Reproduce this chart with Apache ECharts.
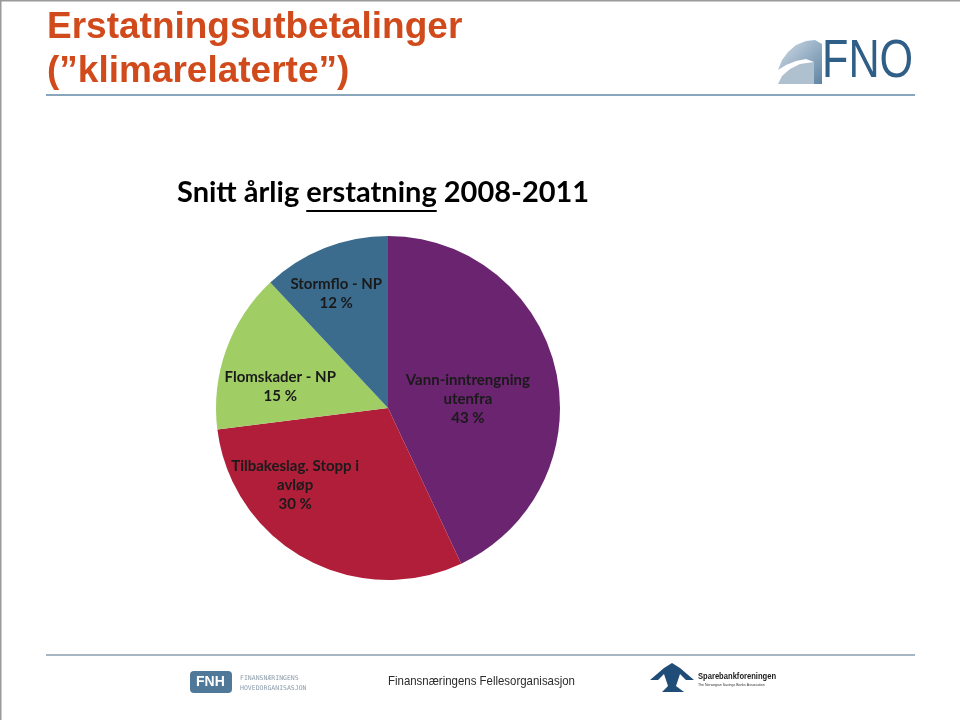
<!DOCTYPE html>
<html>
<head>
<meta charset="utf-8">
<script src="https://cdn.jsdelivr.net/npm/echarts@6/dist/echarts.min.js"></script>
<style>
html,body{margin:0;padding:0;background:#fff;}
#chart{width:960px;height:720px;}
</style>
</head>
<body>
<div id="chart"></div>
<script>
var categories = ['Vann-inntrengning\nutenfra', 'Tilbakeslag. Stopp i\navløp', 'Flomskader - NP', 'Stormflo - NP'];
var values = [43, 30, 15, 12];
var colors = ['#6A2470', '#B11E3A', '#A0CD64', '#3B6C8D'];
var labelOffsets = [[-7, 11], [-50, -1], [-24, 9], [-19, -32]];

var subtitlePre = 'Snitt årlig ';
var subtitleWord = 'erstatning';
var subtitlePost = ' 2008-2011';

var chart = echarts.init(document.getElementById('chart'), null, {renderer: 'canvas'});

var subFont = 'bold 29px Lato, sans-serif';
var mc = document.createElement('canvas').getContext('2d');
mc.font = subFont;
var subX = 177;
var preW = mc.measureText(subtitlePre).width;
var wordW = mc.measureText(subtitleWord).width;

var pieData = categories.map(function (c, i) {
  return {
    name: c,
    value: values[i],
    itemStyle: {color: colors[i]},
    label: {offset: labelOffsets[i]}
  };
});

var option = {
  animation: false,
  backgroundColor: '#ffffff',
  series: [{
    type: 'pie',
    center: [388, 408],
    radius: 172,
    startAngle: 90,
    clockwise: true,
    avoidLabelOverlap: false,
    emphasis: {disabled: true},
    itemStyle: {borderWidth: 0},
    label: {
      show: true,
      position: 'inside',
      formatter: function (p) { return p.name + '\n' + p.value + ' %'; },
      color: '#1a1a1a',
      fontFamily: 'Lato',
      fontWeight: 'bold',
      fontSize: 15,
      lineHeight: 19,
      align: 'center'
    },
    labelLine: {show: false},
    data: pieData
  }],
  graphic: [
    {type: 'line', shape: {x1: 0, y1: 0.5, x2: 960, y2: 0.5}, style: {stroke: '#9a9a9a', lineWidth: 2}},
    {type: 'line', shape: {x1: 0.5, y1: 0, x2: 0.5, y2: 720}, style: {stroke: '#9a9a9a', lineWidth: 2}},
    {type: 'text', x: 47, y: 6, style: {
      text: 'Erstatningsutbetalinger\n(”klimarelaterte”)',
      fill: '#D04A1B', font: 'bold 37px "Liberation Sans", Arial, sans-serif', lineHeight: 44
    }},
    {type: 'line', shape: {x1: 46, y1: 95, x2: 915, y2: 95}, style: {stroke: '#8AA6BC', lineWidth: 2}},
    {type: 'polygon', shape: {points: [[778,70],[782,60],[788,52],[796,45],[806,41],[815,40],[822,44],[822,84],[814,84],[814,62],[806,59],[796,61],[786,65]]},
      style: {fill: new echarts.graphic.LinearGradient(0, 0, 1, 1, [{offset: 0, color: '#D3DEE8'}, {offset: 1, color: '#5F84A3'}])}},
    {type: 'polygon', shape: {points: [[778,84],[782,76],[790,69],[800,64],[814,62],[814,84]]}, style: {fill: '#AFC0CF'}},
    {type: 'text', x: 822, y: 35, scaleX: 0.8, style: {text: 'FNO', fill: '#2F5F86', font: '54px "Liberation Sans", Arial, sans-serif'}},
    {type: 'text', x: subX, y: 178, style: {
      text: subtitlePre + subtitleWord + subtitlePost,
      fill: '#000', font: subFont
    }},
    {type: 'line', shape: {x1: subX + preW, y1: 211, x2: subX + preW + wordW, y2: 211}, style: {stroke: '#000', lineWidth: 2}},
    {type: 'line', shape: {x1: 46, y1: 655, x2: 915, y2: 655}, style: {stroke: '#A6B6C4', lineWidth: 2}},
    {type: 'rect', shape: {x: 190, y: 671, width: 42, height: 22, r: 4}, style: {fill: '#4F7899'}},
    {type: 'text', x: 196, y: 675, style: {text: 'FNH', fill: '#fff', font: 'bold 14px "Liberation Sans", Arial, sans-serif'}},
    {type: 'text', x: 240, y: 673, style: {text: 'FINANSNÆRINGENS\nHOVEDORGANISASJON', fill: '#8C9CAB', font: '6.5px "DejaVu Sans Mono", monospace', lineHeight: 10}},
    {type: 'text', x: 388, y: 675, scaleX: 0.88, style: {text: 'Finansnæringens Fellesorganisasjon', fill: '#2b2b2b', font: '13px "Liberation Sans", sans-serif'}},
    {type: 'polygon', shape: {points: [[650,680],[664,668],[672,663],[680,668],[694,680],[686,680],[680,674],[676,686],[684,692],[662,692],[668,686],[664,674],[658,680]]},
      style: {fill: '#1F4D78'}},
    {type: 'text', x: 698, y: 671, scaleX: 0.8, style: {text: 'Sparebankforeningen', fill: '#1a1a1a', font: 'bold 9.5px "Liberation Sans", sans-serif'}},
    {type: 'text', x: 698, y: 683, style: {text: 'The Norwegian Savings Banks Association', fill: '#333', font: '3.5px "Liberation Sans", sans-serif'}}
  ]
};
chart.setOption(option);
</script>
</body>
</html>
